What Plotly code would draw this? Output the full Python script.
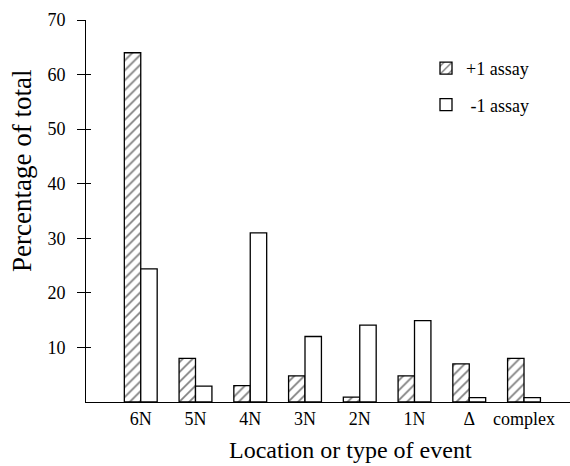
import plotly.graph_objects as go

categories = ["6N", "5N", "4N", "3N", "2N", "1N", "Δ", "complex"]
plus1_assay = [64, 8, 3, 4.8, 0.9, 4.8, 7, 8]
minus1_assay = [24.4, 2.9, 31, 12, 14.1, 14.9, 0.8, 0.8]
y_ticks = [10, 20, 30, 40, 50, 60, 70]

FONT = "Liberation Serif, Times New Roman, serif"

W, H = 570, 466
ML, MR, MT, MB = 86, 0, 20, 64
plot_w = W - ML - MR
plot_h = H - MT - MB

fig = go.Figure()
fig.add_trace(go.Bar(
    x=categories, y=plus1_assay, name="+1 assay",
    marker=dict(color="white", line=dict(color="black", width=1.3),
                pattern=dict(shape="/", fgcolor="black", bgcolor="white",
                             size=7, solidity=0.25)),
    legendgroup="a",
))
fig.add_trace(go.Bar(
    x=categories, y=minus1_assay, name=" -1 assay",
    marker=dict(color="white", line=dict(color="black", width=1.3)),
    legendgroup="b",
))
# invisible trace on yaxis2 so the inner tick marks render
fig.add_trace(go.Scatter(x=[categories[0]], y=[0], yaxis="y2", mode="markers",
                         marker=dict(opacity=0), showlegend=False, hoverinfo="skip"))

fig.update_layout(
    width=W, height=H,
    margin=dict(l=ML, r=MR, t=MT, b=MB),
    paper_bgcolor="white", plot_bgcolor="white",
    barmode="group", bargap=0.4, bargroupgap=0,
    font=dict(family=FONT, color="black", size=18),
    showlegend=True,
    legend=dict(x=(426 - ML) / plot_w, y=(402 - 50) / plot_h, xanchor="left", yanchor="top",
                font=dict(size=18, family=FONT), bgcolor="rgba(0,0,0,0)",
                traceorder="grouped", tracegroupgap=10),
    xaxis=dict(
        type="category", range=[-1, 7.84],
        showline=True, linecolor="black", linewidth=1,
        ticks="", showgrid=False, zeroline=False,
        tickfont=dict(size=18, family=FONT), ticklabelstandoff=0,
    ),
    yaxis=dict(
        range=[0, 70], tickvals=y_ticks,
        showline=True, linecolor="black", linewidth=1,
        ticks="outside", ticklen=8, tickcolor="black", tickwidth=1,
        showgrid=False, zeroline=False,
        tickfont=dict(size=18, family=FONT), ticklabelstandoff=8,
    ),
    yaxis2=dict(
        range=[0, 70], tickvals=y_ticks, overlaying="y", side="left",
        ticks="inside", ticklen=5, tickcolor="black", tickwidth=1,
        showticklabels=False, showgrid=False, zeroline=False, showline=False,
    ),
    annotations=[
        dict(text="Percentage of total", x=(22 - ML) / plot_w, y=(402 - 171) / plot_h,
             xref="paper", yref="paper", showarrow=False, textangle=-90,
             xanchor="center", yanchor="middle",
             font=dict(size=27, family=FONT)),
        dict(text="Location or type of event", x=(350 - ML) / plot_w, y=(402 - 450) / plot_h,
             xref="paper", yref="paper", showarrow=False,
             xanchor="center", yanchor="middle",
             font=dict(size=24, family=FONT)),
    ],
)

fig.write_html("out.html", config={"displayModeBar": False},
               post_script="document.body.style.margin='0';")
